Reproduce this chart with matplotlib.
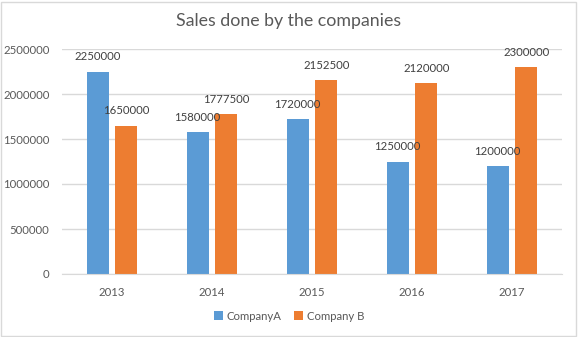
import matplotlib.pyplot as plt
import numpy as np
from matplotlib.patches import Rectangle

years = ["2013", "2014", "2015", "2016", "2017"]
company_a = [2250000, 1580000, 1720000, 1250000, 1200000]
company_b = [1650000, 1777500, 2152500, 2120000, 2300000]

blue = "#5b9bd5"
orange = "#ed7d31"
text_gray = "#595959"
grid_gray = "#d9d9d9"

plt.rcParams["font.family"] = ["Lato", "DejaVu Sans"]

fig = plt.figure(figsize=(5.78, 3.37), dpi=100)
ax = fig.add_axes([62 / 578, 1 - 274 / 337, 500 / 578, 225 / 337])

x = np.arange(len(years))
width = 0.22
offset = 0.143
bars_a = ax.bar(x - offset, company_a, width, color=blue, label="CompanyA", zorder=3)
bars_b = ax.bar(x + offset, company_b, width, color=orange, label="Company B", zorder=3)

# value labels above every bar
for bars in (bars_a, bars_b):
    for b in bars:
        ax.annotate(f"{int(b.get_height())}",
                    (b.get_x() + b.get_width() / 2, b.get_height()),
                    xytext=(0, 6.5), textcoords="offset points",
                    ha="center", va="bottom", fontsize=8.2, color="#404040", zorder=4)

ax.set_xlim(-0.5, len(years) - 0.5)
ax.set_ylim(0, 2500000)
ax.set_yticks(np.arange(0, 2500001, 500000))
ax.set_yticklabels([str(v) for v in range(0, 2500001, 500000)])
ax.set_xticks(x)
ax.set_xticklabels(years)
ax.tick_params(length=0, colors=text_gray, labelsize=8.2)
ax.tick_params(axis="x", pad=9)
ax.tick_params(axis="y", pad=9)
ax.grid(axis="y", color=grid_gray, linewidth=1, zorder=0)
for side in ("top", "right", "left"):
    ax.spines[side].set_visible(False)
ax.spines["bottom"].set_color(grid_gray)
ax.spines["bottom"].set_zorder(3)

fig.text(0.5, 1 - 21 / 337, "Sales done by the companies", ha="center", va="center",
         fontsize=12.8, color=text_gray)

fig.legend(loc="center", bbox_to_anchor=(0.5, 1 - 316 / 337), ncol=2, frameon=False,
           fontsize=8.2, labelcolor=text_gray, handlelength=0.75, handleheight=0.75,
           handletextpad=0.35, columnspacing=1.1)

fig.patches.append(Rectangle((0.5 / 578, 1.5 / 337), 575 / 578, 334 / 337,
                             transform=fig.transFigure, fill=False,
                             edgecolor=grid_gray, linewidth=1))

fig.savefig("out.png", dpi=100)
